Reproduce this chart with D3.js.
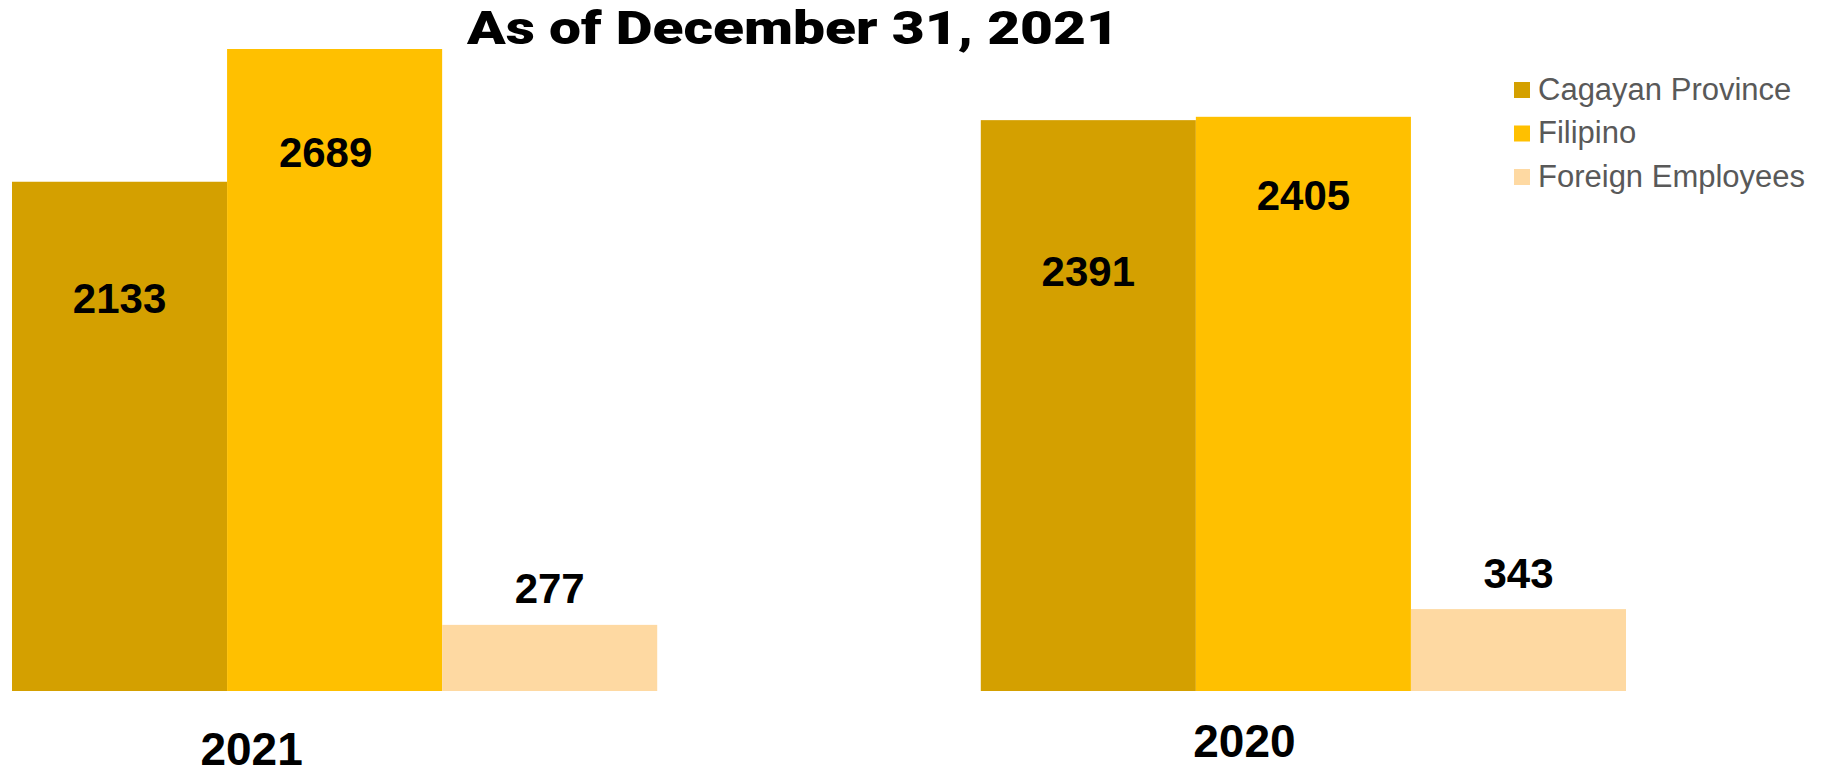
<!DOCTYPE html>
<html>
<head>
<meta charset="utf-8">
<script src="https://cdn.jsdelivr.net/npm/d3@7"></script>
<style>
  body { margin: 0; background: #fff; }
  svg { display: block; }
</style>
</head>
<body>
<svg id="chart"></svg>
<script>
// data
var categories = ["2021", "2020"];
var seriesNames = ["Cagayan Province", "Filipino", "Foreign Employees"];
var cagayan = [2133, 2391];
var filipino = [2689, 2405];
var foreign = [277, 343];
var colors = ["#D4A000", "#FFC000", "#FED9A2"];

// label nudges (baseline below bar top), per series per category
var labelDy = [[131, 166], [118, 93], [-22, -21]];
var labelDx = [[0, 0], [-9, 0], [0, 0]];
var catLabelShift = [[-83, 74], [-59, 66]];

var svgWidth = 1828, svgHeight = 773;
var svg = d3.select("#chart")
  .attr("width", svgWidth)
  .attr("height", svgHeight);

var values = [cagayan, filipino, foreign];
var rows = [];
categories.forEach(function(c, ci) {
  seriesNames.forEach(function(s, si) {
    rows.push({ cat: c, ci: ci, series: s, si: si, value: values[si][ci] });
  });
});

var x0 = d3.scaleBand()
  .domain(categories)
  .range([12, 1626])
  .paddingInner(0.334)
  .paddingOuter(0);

var x1 = d3.scaleBand()
  .domain(seriesNames)
  .range([0, x0.bandwidth()])
  .padding(0);

var y = d3.scaleLinear()
  .domain([0, d3.max(rows, function(d) { return d.value; })])
  .range([691, 49]);

var color = d3.scaleOrdinal().domain(seriesNames).range(colors);

// bars
svg.append("g")
  .selectAll("rect")
  .data(rows)
  .enter().append("rect")
  .attr("x", function(d) { return x0(d.cat) + x1(d.series); })
  .attr("y", function(d) { return y(d.value); })
  .attr("width", x1.bandwidth())
  .attr("height", function(d) { return y(0) - y(d.value); })
  .attr("fill", function(d) { return color(d.series); });

// value labels
svg.append("g")
  .selectAll("text")
  .data(rows)
  .enter().append("text")
  .attr("x", function(d) { return x0(d.cat) + x1(d.series) + x1.bandwidth() / 2 + labelDx[d.si][d.ci]; })
  .attr("y", function(d) { return y(d.value) + labelDy[d.si][d.ci]; })
  .attr("text-anchor", "middle")
  .attr("font-family", "Liberation Sans, Arial, sans-serif")
  .attr("font-weight", "bold")
  .attr("font-size", 42)
  .attr("fill", "#000")
  .text(function(d) { return d.value; });

// category axis
var xAxis = svg.append("g")
  .attr("transform", "translate(0," + y(0) + ")")
  .call(d3.axisBottom(x0).tickSize(0).tickPadding(0));
xAxis.select(".domain").remove();
xAxis.selectAll(".tick text")
  .attr("font-family", "Liberation Sans, Arial, sans-serif")
  .attr("font-weight", "bold")
  .attr("font-size", 46)
  .attr("fill", "#000")
  .attr("dy", null)
  .attr("x", function(d, i) { return catLabelShift[i][0]; })
  .attr("y", function(d, i) { return catLabelShift[i][1]; });

// title
svg.append("text")
  .attr("x", 467)
  .attr("y", 44)
  .attr("font-family", "Arial Black, Roboto, Lato, sans-serif")
  .attr("font-weight", 900)
  .attr("font-size", 47)
  .attr("fill", "#000")
  .attr("textLength", 652)
  .attr("lengthAdjust", "spacingAndGlyphs")
  .text("As of December 31, 2021");

// legend
var legend = svg.append("g")
  .attr("transform", "translate(1514,82)")
  .selectAll("g")
  .data(seriesNames)
  .enter().append("g")
  .attr("transform", function(d, i) { return "translate(0," + i * 43.5 + ")"; });

legend.append("rect")
  .attr("width", 16)
  .attr("height", 16)
  .attr("fill", function(d) { return color(d); });

legend.append("text")
  .attr("x", 24)
  .attr("y", 17.5)
  .attr("font-family", "Liberation Sans, Arial, sans-serif")
  .attr("font-size", 31)
  .attr("fill", "#595959")
  .text(function(d) { return d; });
</script>
</body>
</html>
